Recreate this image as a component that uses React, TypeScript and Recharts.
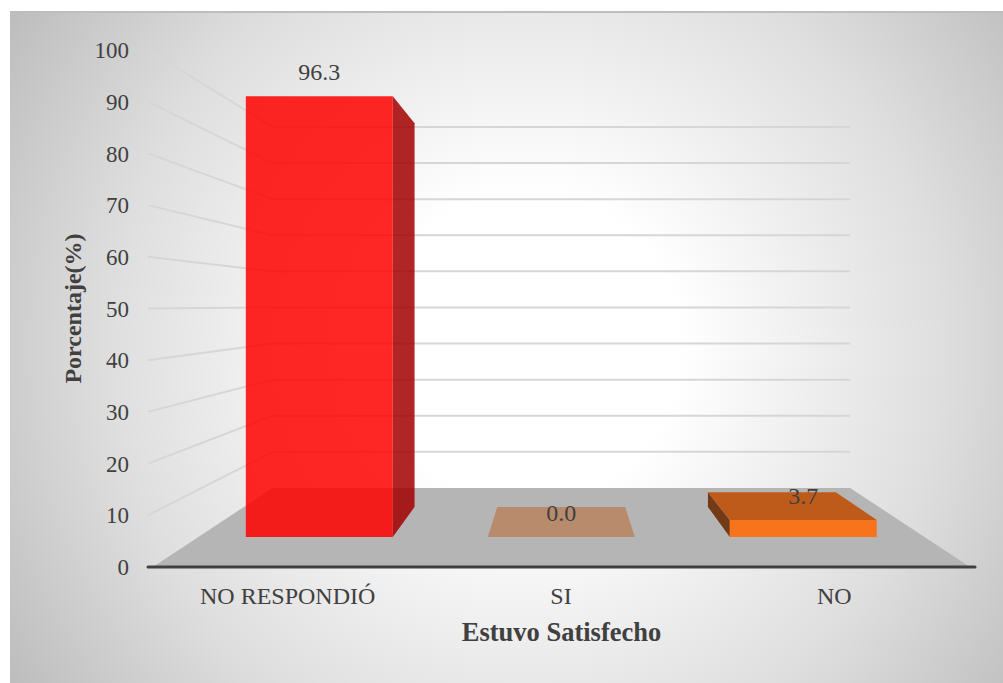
// Barras en falsa perspectiva 3D: las caras se proyectan desde las escalas de Recharts.
import { Bar, CartesianGrid, ComposedChart, LabelList, XAxis, YAxis } from "recharts";

const categories = ["NO RESPONDIÓ", "SI", "NO"];
const percentages = [96.3, 0.0, 3.7];
const yTicks = [0, 10, 20, 30, 40, 50, 60, 70, 80, 90, 100];

const rows = categories.map((name, i) => ({ name, value: percentages[i] }));

// Punto de fuga y profundidades (0 = plano del eje, 1 = pared del fondo)
const VX = 561;
const VY = 305;
const SHRINK = 0.3017;
const BAR_FRONT = 0.38;
const BAR_BACK = 0.76;
const FLOOR_INSET = 5;
const BASELINE_Y = 567;

const FACES = [
  { front: "#ff0000", frontOpacity: 0.85, side: "#a20000", sideOpacity: 0.85, top: "#c00000", topOpacity: 0.85 },
  { front: "#b98b6d", frontOpacity: 1, side: "#b98b6d", sideOpacity: 1, top: "#b98b6d", topOpacity: 1 },
  { front: "#f7741d", frontOpacity: 1, side: "#733a17", sideOpacity: 1, top: "#bf5b1a", topOpacity: 1 },
];

const INK = "#404040";
const FONT = "'Liberation Serif', 'Times New Roman', serif";

function project(x: number, y: number, depth: number): [number, number] {
  const s = 1 - SHRINK * depth;
  return [VX + (x - VX) * s, VY + (y - VY) * s];
}

function poly(points: [number, number][]) {
  return points.map((p) => p.join(",")).join(" ");
}

// Líneas de pared lateral + fondo; la línea del cero dibuja además el suelo
function WallLine(props: any) {
  const { x1, x2, y1 } = props;
  const [bx1, by] = project(x1, y1, 1);
  const [bx2] = project(x2, y1, 1);
  if (y1 >= BASELINE_Y - 1) {
    return (
      <polygon
        points={poly([
          [x1 + FLOOR_INSET, y1],
          [x2 - FLOOR_INSET, y1],
          [bx2, by],
          [bx1, by],
        ])}
        fill="#b5b5b5"
      />
    );
  }
  return <polyline points={poly([[x1, y1], [bx1, by], [bx2, by]])} fill="none" stroke="#d6d6d6" strokeWidth={2} />;
}

function Box3D(props: any) {
  const { x, y, width, height, index } = props;
  const c = FACES[index];
  const left = x;
  const right = x + width;
  const base = y + height;
  const fl = project(left, base, BAR_FRONT);
  const fr = project(right, base, BAR_FRONT);
  const ftl = project(left, y, BAR_FRONT);
  const ftr = project(right, y, BAR_FRONT);
  const bl = project(left, base, BAR_BACK);
  const br = project(right, base, BAR_BACK);
  const btl = project(left, y, BAR_BACK);
  const btr = project(right, y, BAR_BACK);
  return (
    <g>
      {btl[0] < ftl[0] && height > 0 && <polygon points={poly([btl, ftl, fl, bl])} fill={c.side} fillOpacity={c.sideOpacity} />}
      {btr[0] > ftr[0] && height > 0 && <polygon points={poly([ftr, btr, br, fr])} fill={c.side} fillOpacity={c.sideOpacity} />}
      {btl[1] < ftl[1] && <polygon points={poly([btl, btr, ftr, ftl])} fill={c.top} fillOpacity={c.topOpacity} />}
      {height > 0 && <polygon points={poly([ftl, ftr, fr, fl])} fill={c.front} fillOpacity={c.frontOpacity} />}
    </g>
  );
}

function ValueLabel(props: any) {
  const { x, y, width, value } = props;
  const [px, py] = project(x + width / 2, y, BAR_FRONT);
  return (
    <text x={px} y={py - 16} textAnchor="middle" fontSize={24} fontFamily={FONT} fill={INK}>
      {Number(value).toFixed(1)}
    </text>
  );
}

export default function App() {
  return (
    <div style={{ position: "absolute", left: 0, top: 0, width: 1003, height: 683, background: "#fff" }}>
      <div
        style={{
          position: "absolute",
          left: 10,
          top: 11,
          width: 993,
          height: 672,
          borderTop: "2px solid #bdbdbd",
          boxSizing: "border-box",
          background: "radial-gradient(circle farthest-corner at 52% 50%, #ffffff 0%, #ffffff 25%, #dedede 68%, #bdbdbd 100%)",
        }}
      />
      <div style={{ position: "absolute", left: 0, top: 0 }}>
        <ComposedChart width={1003} height={683} data={rows} margin={{ top: 50, right: 28, bottom: 0, left: 88 }}>
          <CartesianGrid vertical={false} horizontal={WallLine} />
          <XAxis
            dataKey="name"
            height={116}
            padding={{ left: 3, right: 4 }}
            tickLine={false}
            axisLine={{ stroke: INK, strokeWidth: 3, strokeLinecap: "round" }}
            tick={{ fill: INK, fontSize: 24, fontFamily: FONT, dy: 12 }}
            interval={0}
            label={{
              value: "Estuvo Satisfecho",
              position: "insideTop",
              offset: 55,
              fill: INK,
              fontSize: 26.5,
              fontWeight: 700,
              fontFamily: FONT,
            }}
          />
          <YAxis
            width={60}
            domain={[0, 100]}
            ticks={yTicks}
            tickLine={false}
            axisLine={false}
            tickMargin={13}
            tick={{ fill: INK, fontSize: 23, fontFamily: FONT }}
            label={{
              value: "Porcentaje(%)",
              angle: -90,
              position: "insideLeft",
              offset: -16,
              fill: INK,
              fontSize: 24,
              fontWeight: 700,
              fontFamily: FONT,
              style: { textAnchor: "middle" },
            }}
          />
          <Bar dataKey="value" barSize={166} shape={Box3D} isAnimationActive={false}>
            <LabelList dataKey="value" content={ValueLabel} />
          </Bar>
        </ComposedChart>
      </div>
    </div>
  );
}
